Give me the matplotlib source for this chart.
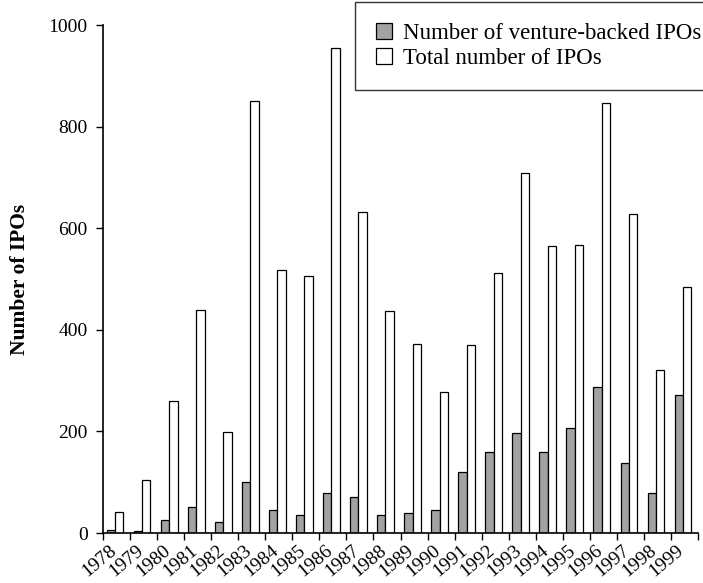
import numpy as np
import matplotlib.pyplot as plt

# IPO counts by year
years = list(range(1978, 2000))
venture = [6, 4, 26, 51, 22, 101, 45, 35, 78, 70, 35, 40, 45,
           121, 160, 196, 160, 206, 287, 138, 78, 272]
total = [42, 104, 260, 438, 199, 850, 518, 506, 954, 631, 437, 372, 278,
         370, 511, 708, 564, 567, 846, 627, 320, 485]

plt.rcParams['font.family'] = ['Liberation Serif', 'DejaVu Serif']

fig = plt.figure(figsize=(7.03, 5.83), dpi=100)
ax = fig.add_axes([103/703, 1-533/583, 595/703, 508/583])

x = np.arange(len(years))
ax.bar(x + 0.29, venture, 0.31, color='#a2a2a2', edgecolor='black', lw=0.9,
       label='Number of venture-backed IPOs')
ax.bar(x + 0.60, total, 0.31, color='white', edgecolor='black', lw=0.9,
       label='Total number of IPOs')

ax.set_xlim(0, 22)
ax.set_ylim(0, 1000)
ax.set_yticks([0, 200, 400, 600, 800, 1000])

# ticks on the category edges, year labels hung under them
ax.set_xticks(np.arange(23))
ax.set_xticklabels([])
ax.set_xticks(x + 0.4, [str(y) for y in years], minor=True)
ax.tick_params(axis='x', which='minor', length=0, pad=11)
plt.setp(ax.get_xticklabels(minor=True), rotation=40, ha='right',
         va='center', rotation_mode='anchor', fontsize=14)
ax.tick_params(axis='both', which='major', direction='out', length=5,
               width=1, labelsize=14)
ax.tick_params(axis='y', pad=6)

for s in ['top', 'right']:
    ax.spines[s].set_visible(False)
for s in ['left', 'bottom']:
    ax.spines[s].set_linewidth(1.2)

ax.set_ylabel('Number of IPOs', fontweight='bold', fontsize=15.5)
ax.yaxis.set_label_coords(-0.122, 0.5)

leg = ax.legend(loc='upper left', bbox_to_anchor=(355/703, 1-2/583),
                bbox_transform=fig.transFigure, borderaxespad=0,
                fancybox=False, edgecolor='black', fontsize=16.5,
                handlelength=0.7, handleheight=0.7, handletextpad=0.5,
                labelspacing=0.2, borderpad=0.9)
leg.get_frame().set_linewidth(1.0)

plt.savefig('out.png', dpi=100)
